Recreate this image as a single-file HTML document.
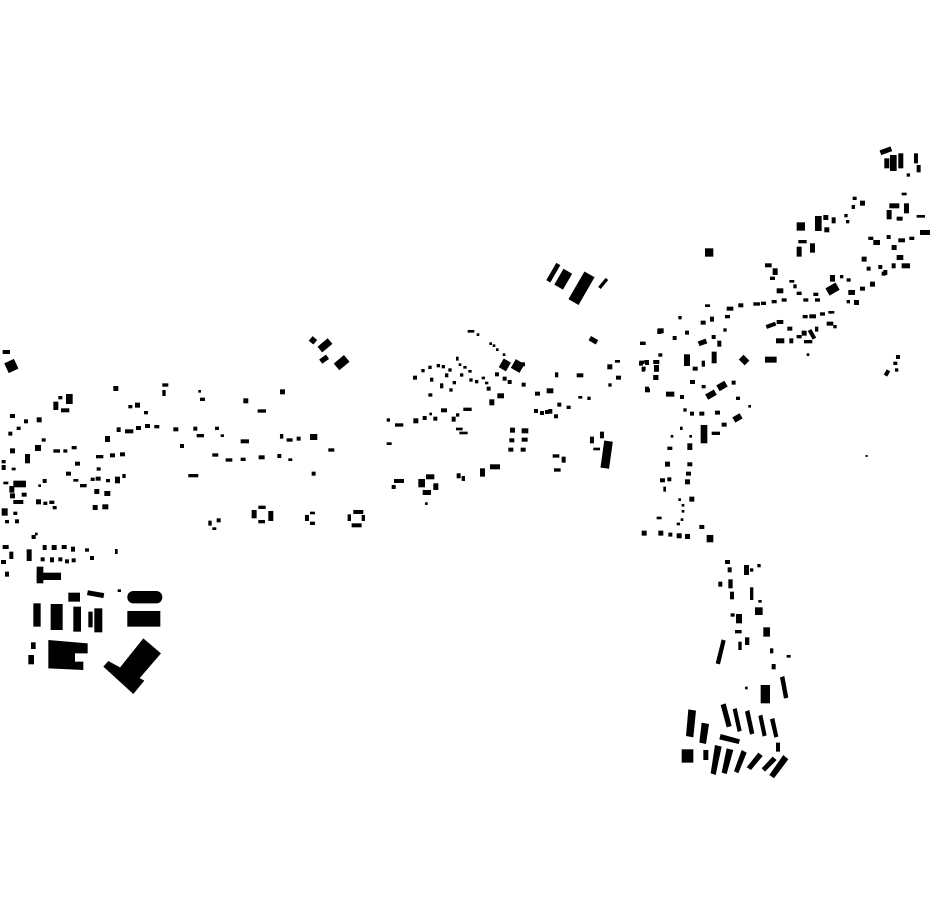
<!DOCTYPE html>
<html><head><meta charset="utf-8"><style>html,body{margin:0;padding:0;background:#fff}svg{display:block}</style></head>
<body>
<svg width="930" height="924" viewBox="0 0 930 924" xmlns="http://www.w3.org/2000/svg">
<rect width="930" height="924" fill="#fff"/>
<!-- Zoom1 region: bottom-left -->
<g transform="translate(0,530) scale(0.3333)" fill="#000">
<rect x="95" y="15" width="12" height="12"/><rect x="105" y="8" width="8" height="8"/><rect x="8" y="45" width="18" height="12"/><rect x="28" y="65" width="12" height="22"/><rect x="3" y="90" width="15" height="12"/><rect x="15" y="125" width="12" height="15"/><rect x="80" y="58" width="15" height="35"/><rect x="128" y="45" width="12" height="15"/><rect x="155" y="45" width="15" height="15"/><rect x="185" y="45" width="15" height="12"/><rect x="213" y="50" width="12" height="15"/><rect x="122" y="82" width="12" height="12"/><rect x="150" y="82" width="12" height="15"/><rect x="175" y="82" width="12" height="12"/><rect x="195" y="88" width="12" height="12"/><rect x="215" y="85" width="12" height="12"/><rect x="255" y="55" width="12" height="10"/><rect x="270" y="78" width="12" height="12"/><rect x="345" y="57" width="8" height="15"/><rect x="353" y="178" width="10" height="8"/>
<rect x="110" y="110" width="20" height="50"/><rect x="110" y="128" width="73" height="22"/><rect x="205" y="188" width="35" height="27"/><rect x="262" y="185" width="50" height="15" transform="rotate(10 287 192)"/>
<rect x="382" y="183" width="105" height="37" rx="18"/><rect x="382" y="243" width="99" height="47"/>
<rect x="100" y="220" width="22" height="70"/><rect x="152" y="222" width="36" height="78"/><rect x="220" y="230" width="23" height="75"/><rect x="265" y="245" width="13" height="47"/><rect x="283" y="235" width="24" height="72"/>
<polygon points="145,330 263,340 263,370 225,370 225,395 250,395 250,420 145,415"/>
<rect x="93" y="337" width="14" height="20"/><rect x="85" y="375" width="17" height="28"/>
<polygon points="430,325 483,370 410,455 358,415"/>
<polygon points="325,393 433,452 400,492 310,410"/>
</g>
<!-- Zoom2 region: bottom-right -->
<g transform="translate(670,550) scale(0.3333)" fill="#000">
<polygon points="155,268 167,272 150,343 137,340"/><rect x="272" y="405" width="28" height="55"/>
<polygon points="330,382 343,378 355,443 342,446"/>
<polygon points="55,478 78,482 70,562 48,558"/><polygon points="95,518 117,522 108,582 88,578"/>
<polygon points="152,465 167,460 185,528 170,532"/><polygon points="188,478 200,474 215,542 203,546"/>
<polygon points="225,485 238,480 253,550 240,554"/><polygon points="265,498 277,494 290,556 278,560"/>
<polygon points="300,508 313,504 325,560 313,563"/><rect x="318" y="578" width="12" height="27"/>
<polygon points="152,552 210,568 206,582 148,568"/><rect x="35" y="598" width="35" height="40"/><rect x="100" y="600" width="15" height="30"/>
<polygon points="135,585 155,590 137,675 122,670"/><polygon points="170,595 190,600 170,672 155,668"/>
<polygon points="215,600 230,608 205,670 192,664"/><polygon points="265,608 278,618 243,660 230,652"/>
<polygon points="308,620 320,630 285,665 275,655"/><polygon points="340,615 355,628 312,685 298,675"/>
<rect x="165" y="30" width="15" height="12"/><rect x="173" y="52" width="12" height="15"/><rect x="222" y="45" width="15" height="30"/><rect x="240" y="55" width="10" height="10"/><rect x="262" y="42" width="10" height="10"/><rect x="145" y="95" width="12" height="15"/><rect x="175" y="88" width="13" height="27"/><rect x="180" y="125" width="12" height="23"/><rect x="240" y="112" width="10" height="38"/><rect x="265" y="150" width="10" height="8"/><rect x="255" y="172" width="23" height="23"/><rect x="182" y="190" width="12" height="10"/><rect x="198" y="192" width="18" height="28"/><rect x="195" y="240" width="20" height="10"/><rect x="205" y="275" width="10" height="25"/><rect x="225" y="262" width="13" height="23"/><rect x="280" y="232" width="20" height="28"/><rect x="300" y="295" width="10" height="15"/><rect x="305" y="342" width="12" height="16"/><rect x="350" y="315" width="12" height="8"/><rect x="225" y="410" width="8" height="8"/>
</g>
<!-- Zoom3 region: left band -->
<g transform="translate(0,330) scale(0.3333)" fill="#000">
<rect x="8" y="60" width="22" height="12"/><rect x="18" y="92" width="32" height="32" transform="rotate(-25 34 108)"/>
<rect x="930" y="22" width="18" height="18" transform="rotate(40 939 31)"/><rect x="955" y="35" width="40" height="22" transform="rotate(-40 975 46)"/><rect x="960" y="80" width="25" height="16" transform="rotate(-35 972 88)"/><rect x="1005" y="85" width="40" height="26" transform="rotate(-40 1025 98)"/>
<rect x="340" y="168" width="15" height="15"/><rect x="487" y="160" width="18" height="10"/><rect x="487" y="180" width="10" height="18"/><rect x="595" y="180" width="8" height="8"/><rect x="600" y="203" width="15" height="10"/><rect x="730" y="205" width="15" height="15"/><rect x="773" y="238" width="25" height="10"/><rect x="840" y="178" width="15" height="15"/>
<rect x="160" y="215" width="15" height="25"/><rect x="175" y="198" width="12" height="10"/><rect x="198" y="192" width="20" height="30"/><rect x="183" y="235" width="25" height="12"/>
<rect x="385" y="225" width="12" height="10"/><rect x="405" y="218" width="15" height="15"/><rect x="432" y="243" width="12" height="10"/>
<rect x="30" y="252" width="15" height="12"/><rect x="50" y="290" width="12" height="10"/><rect x="72" y="268" width="12" height="12"/><rect x="110" y="262" width="15" height="15"/><rect x="25" y="305" width="12" height="12"/><rect x="125" y="325" width="12" height="10"/><rect x="105" y="345" width="18" height="18"/><rect x="30" y="355" width="15" height="15"/><rect x="75" y="372" width="15" height="28"/><rect x="5" y="390" width="12" height="10"/><rect x="5" y="405" width="12" height="15"/><rect x="35" y="413" width="12" height="8"/>
<rect x="160" y="358" width="20" height="10"/><rect x="190" y="358" width="12" height="10"/><rect x="215" y="348" width="15" height="10"/><rect x="350" y="292" width="12" height="14"/><rect x="375" y="298" width="25" height="12"/><rect x="408" y="288" width="15" height="12"/><rect x="435" y="282" width="15" height="12"/><rect x="463" y="285" width="15" height="10"/><rect x="520" y="292" width="15" height="12"/><rect x="315" y="318" width="15" height="18"/><rect x="580" y="290" width="12" height="12"/><rect x="590" y="312" width="22" height="10"/><rect x="645" y="290" width="12" height="10"/><rect x="662" y="313" width="10" height="8"/><rect x="722" y="328" width="25" height="12"/><rect x="840" y="312" width="10" height="14"/><rect x="860" y="325" width="18" height="10"/><rect x="890" y="320" width="12" height="12"/><rect x="930" y="312" width="22" height="18"/><rect x="985" y="355" width="18" height="10"/>
<rect x="540" y="342" width="12" height="12"/><rect x="288" y="375" width="22" height="10"/><rect x="330" y="370" width="15" height="12"/><rect x="360" y="367" width="15" height="12"/><rect x="637" y="370" width="18" height="10"/><rect x="677" y="385" width="20" height="10"/><rect x="722" y="383" width="15" height="10"/><rect x="776" y="376" width="18" height="12"/><rect x="832" y="372" width="12" height="12"/><rect x="865" y="385" width="12" height="8"/><rect x="935" y="425" width="12" height="12"/>
<rect x="225" y="395" width="15" height="12"/><rect x="198" y="425" width="15" height="12"/><rect x="290" y="412" width="12" height="10"/><rect x="220" y="447" width="15" height="8"/><rect x="240" y="462" width="20" height="10"/><rect x="272" y="443" width="12" height="10"/><rect x="287" y="440" width="15" height="12"/><rect x="318" y="447" width="12" height="10"/><rect x="345" y="440" width="15" height="20"/><rect x="367" y="432" width="10" height="12"/><rect x="565" y="432" width="30" height="10"/>
<rect x="10" y="455" width="15" height="8"/><rect x="40" y="452" width="38" height="20"/><rect x="28" y="468" width="15" height="20"/><rect x="65" y="488" width="15" height="12"/><rect x="30" y="490" width="15" height="15"/><rect x="40" y="510" width="30" height="12"/><rect x="128" y="447" width="12" height="12"/><rect x="115" y="463" width="8" height="8"/><rect x="108" y="508" width="15" height="15"/><rect x="130" y="515" width="12" height="10"/><rect x="148" y="512" width="15" height="10"/><rect x="158" y="528" width="12" height="10"/><rect x="283" y="477" width="15" height="15"/><rect x="313" y="483" width="18" height="15"/><rect x="278" y="525" width="15" height="15"/><rect x="307" y="523" width="18" height="15"/>
<rect x="5" y="535" width="18" height="22"/><rect x="40" y="545" width="12" height="10"/><rect x="15" y="570" width="12" height="10"/><rect x="45" y="568" width="12" height="12"/><rect x="95" y="615" width="10" height="10"/>
<rect x="625" y="572" width="10" height="15"/><rect x="650" y="565" width="12" height="12"/><rect x="637" y="592" width="12" height="8"/><rect x="755" y="540" width="15" height="25"/><rect x="775" y="527" width="22" height="10"/><rect x="805" y="543" width="15" height="30"/><rect x="775" y="570" width="20" height="10"/><rect x="915" y="555" width="12" height="18"/><rect x="930" y="545" width="15" height="8"/><rect x="930" y="575" width="15" height="10"/><rect x="1043" y="553" width="10" height="20"/><rect x="1060" y="540" width="30" height="12"/><rect x="1055" y="580" width="30" height="12"/><rect x="1085" y="555" width="10" height="18"/>
</g>
<!-- Zoom4 region: middle -->
<g transform="translate(380,255) scale(0.3333)" fill="#000">
<rect x="513" y="23" width="14" height="60" transform="rotate(30 520 53)"/><rect x="535" y="45" width="30" height="55" transform="rotate(30 550 72)"/><rect x="587" y="52" width="35" height="96" transform="rotate(30 605 100)"/><rect x="665" y="68" width="10" height="35" transform="rotate(40 670 85)"/>
<rect x="263" y="225" width="20" height="8"/><rect x="290" y="235" width="8" height="8"/><rect x="328" y="262" width="8" height="8"/><rect x="338" y="268" width="8" height="8"/><rect x="348" y="280" width="8" height="8"/><rect x="368" y="295" width="8" height="8"/>
<rect x="628" y="248" width="25" height="15" transform="rotate(30 640 255)"/><rect x="780" y="260" width="12" height="10"/><rect x="832" y="222" width="12" height="15"/>
<rect x="362" y="315" width="25" height="30" transform="rotate(30 375 330)"/><rect x="398" y="318" width="30" height="30" transform="rotate(30 413 333)"/><rect x="420" y="322" width="15" height="12"/>
<rect x="99" y="362" width="12" height="12"/><rect x="124" y="342" width="10" height="10"/><rect x="145" y="332" width="10" height="10"/><rect x="170" y="327" width="10" height="10"/><rect x="185" y="330" width="10" height="10"/><rect x="228" y="305" width="8" height="12"/><rect x="236" y="325" width="8" height="8"/><rect x="250" y="333" width="10" height="8"/><rect x="265" y="345" width="10" height="8"/><rect x="150" y="368" width="10" height="12"/><rect x="180" y="385" width="10" height="15"/><rect x="195" y="355" width="10" height="12"/><rect x="205" y="340" width="10" height="10"/><rect x="208" y="400" width="10" height="10"/><rect x="218" y="378" width="10" height="10"/><rect x="240" y="355" width="10" height="10"/><rect x="268" y="370" width="10" height="10"/><rect x="285" y="375" width="10" height="10"/><rect x="305" y="365" width="10" height="8"/><rect x="315" y="380" width="10" height="8"/><rect x="320" y="395" width="12" height="12"/><rect x="345" y="352" width="12" height="12"/><rect x="368" y="365" width="12" height="12"/><rect x="383" y="375" width="12" height="12"/><rect x="425" y="383" width="12" height="12"/><rect x="145" y="415" width="12" height="10"/>
<rect x="525" y="352" width="10" height="15"/><rect x="590" y="355" width="20" height="12"/><rect x="682" y="328" width="15" height="15"/><rect x="705" y="315" width="15" height="8"/><rect x="708" y="362" width="15" height="12"/><rect x="685" y="385" width="10" height="10"/><rect x="777" y="320" width="12" height="12"/><rect x="795" y="315" width="12" height="15"/><rect x="820" y="315" width="18" height="12"/><rect x="785" y="335" width="12" height="12"/><rect x="822" y="330" width="15" height="20"/><rect x="820" y="360" width="15" height="15"/><rect x="795" y="395" width="12" height="15"/>
<rect x="465" y="410" width="15" height="12"/><rect x="500" y="400" width="20" height="15"/><rect x="352" y="415" width="20" height="15"/><rect x="328" y="433" width="15" height="18"/><rect x="595" y="423" width="12" height="8"/><rect x="622" y="425" width="10" height="10"/>
<rect x="20" y="490" width="10" height="10"/><rect x="45" y="505" width="25" height="10"/><rect x="100" y="490" width="15" height="15"/><rect x="128" y="483" width="12" height="12"/><rect x="148" y="473" width="8" height="8"/><rect x="160" y="485" width="12" height="12"/><rect x="183" y="460" width="18" height="12"/><rect x="215" y="485" width="12" height="15"/><rect x="228" y="475" width="10" height="10"/><rect x="250" y="458" width="25" height="10"/><rect x="462" y="462" width="12" height="12"/><rect x="480" y="468" width="12" height="12"/><rect x="495" y="465" width="12" height="12"/><rect x="505" y="462" width="12" height="14"/><rect x="522" y="478" width="12" height="12"/><rect x="532" y="443" width="12" height="12"/><rect x="560" y="452" width="12" height="10"/>
<rect x="228" y="518" width="20" height="8"/><rect x="238" y="530" width="25" height="8"/><rect x="20" y="562" width="15" height="8"/>
<rect x="390" y="518" width="15" height="15"/><rect x="425" y="520" width="20" height="15"/><rect x="388" y="550" width="15" height="12"/><rect x="425" y="548" width="18" height="12"/><rect x="385" y="578" width="15" height="12"/><rect x="422" y="578" width="15" height="12"/>
<rect x="630" y="545" width="12" height="20"/><rect x="660" y="530" width="12" height="20"/><rect x="640" y="578" width="20" height="8"/><rect x="667" y="558" width="26" height="82" transform="rotate(8 680 599)"/>
<rect x="518" y="598" width="20" height="10"/><rect x="545" y="605" width="12" height="18"/><rect x="522" y="640" width="20" height="10"/>
<rect x="330" y="628" width="30" height="15"/><rect x="300" y="640" width="15" height="25"/>
<rect x="230" y="655" width="12" height="15"/><rect x="245" y="663" width="10" height="15"/><rect x="35" y="690" width="12" height="12"/><rect x="42" y="672" width="30" height="12"/><rect x="115" y="672" width="20" height="25"/><rect x="138" y="658" width="25" height="15"/><rect x="160" y="685" width="15" height="20"/><rect x="128" y="705" width="25" height="15"/><rect x="135" y="742" width="8" height="8"/>
</g>
<!-- Zoom5 region: upper right -->
<g transform="translate(630,140) scale(0.3333)" fill="#000">
<rect x="750" y="25" width="35" height="15" transform="rotate(-20 767 32)"/><rect x="763" y="55" width="15" height="30"/><rect x="780" y="45" width="20" height="48"/><rect x="805" y="40" width="15" height="45"/><rect x="852" y="40" width="12" height="30"/><rect x="860" y="75" width="12" height="22"/><rect x="830" y="100" width="10" height="10"/>
<rect x="815" y="158" width="15" height="8"/><rect x="822" y="190" width="15" height="30"/><rect x="778" y="190" width="30" height="15"/><rect x="770" y="210" width="15" height="28"/><rect x="800" y="230" width="18" height="12"/><rect x="860" y="225" width="25" height="8"/>
<rect x="668" y="170" width="12" height="10"/><rect x="690" y="182" width="15" height="15"/><rect x="665" y="195" width="10" height="12"/><rect x="643" y="222" width="10" height="10"/><rect x="648" y="240" width="10" height="10"/>
<rect x="500" y="247" width="25" height="25"/><rect x="555" y="228" width="20" height="45"/><rect x="580" y="225" width="15" height="15"/><rect x="605" y="232" width="12" height="18"/><rect x="583" y="262" width="15" height="15"/>
<rect x="505" y="300" width="25" height="10"/><rect x="500" y="320" width="15" height="30"/><rect x="540" y="310" width="15" height="28"/><rect x="225" y="325" width="25" height="25"/>
<rect x="405" y="370" width="20" height="12"/><rect x="428" y="385" width="15" height="20"/><rect x="420" y="410" width="15" height="10"/><rect x="440" y="445" width="20" height="15"/><rect x="478" y="420" width="15" height="8"/><rect x="490" y="433" width="10" height="12"/><rect x="500" y="455" width="15" height="10"/><rect x="520" y="475" width="15" height="10"/><rect x="550" y="458" width="15" height="10"/><rect x="555" y="475" width="15" height="10"/><rect x="600" y="405" width="15" height="20"/><rect x="590" y="435" width="35" height="25" transform="rotate(-30 607 447)"/><rect x="630" y="405" width="10" height="10"/><rect x="650" y="415" width="12" height="10"/>
<rect x="715" y="290" width="15" height="10"/><rect x="730" y="300" width="20" height="15"/><rect x="770" y="285" width="12" height="12"/><rect x="785" y="315" width="15" height="15"/><rect x="805" y="295" width="20" height="12"/><rect x="838" y="290" width="15" height="10"/><rect x="870" y="270" width="30" height="15"/><rect x="695" y="350" width="15" height="15"/><rect x="710" y="380" width="12" height="12"/><rect x="720" y="425" width="15" height="15"/><rect x="690" y="440" width="15" height="12"/><rect x="655" y="450" width="20" height="15"/><rect x="672" y="480" width="15" height="15"/><rect x="650" y="480" width="10" height="10"/><rect x="745" y="375" width="12" height="12"/><rect x="760" y="390" width="12" height="15"/><rect x="785" y="370" width="12" height="15"/><rect x="800" y="345" width="20" height="15"/><rect x="815" y="370" width="25" height="15"/><rect x="755" y="395" width="12" height="12"/>
<rect x="225" y="493" width="15" height="8"/><rect x="290" y="500" width="20" height="12"/><rect x="325" y="490" width="15" height="12"/><rect x="370" y="487" width="20" height="10"/><rect x="393" y="485" width="15" height="10"/><rect x="425" y="480" width="15" height="10"/><rect x="455" y="475" width="15" height="10"/>
<rect x="145" y="528" width="10" height="10"/><rect x="212" y="542" width="15" height="12"/><rect x="240" y="530" width="12" height="15"/><rect x="285" y="525" width="15" height="10"/><rect x="35" y="605" width="12" height="10"/><rect x="83" y="565" width="18" height="15"/><rect x="128" y="588" width="12" height="12"/><rect x="165" y="572" width="12" height="12"/><rect x="205" y="600" width="25" height="15" transform="rotate(-20 217 607)"/><rect x="245" y="585" width="12" height="12"/><rect x="262" y="602" width="12" height="18"/><rect x="280" y="565" width="10" height="10"/><rect x="408" y="550" width="30" height="12" transform="rotate(-20 423 556)"/><rect x="440" y="540" width="20" height="12"/><rect x="472" y="560" width="15" height="12"/><rect x="518" y="525" width="15" height="10"/><rect x="538" y="523" width="20" height="12"/><rect x="570" y="517" width="15" height="10"/><rect x="595" y="513" width="18" height="8"/><rect x="438" y="595" width="25" height="15"/><rect x="478" y="595" width="12" height="15"/><rect x="500" y="585" width="15" height="10"/><rect x="515" y="572" width="15" height="15"/><rect x="522" y="600" width="25" height="10"/><rect x="540" y="568" width="12" height="30" transform="rotate(-30 546 583)"/><rect x="555" y="560" width="10" height="15"/><rect x="590" y="545" width="20" height="12"/><rect x="610" y="555" width="10" height="10"/><rect x="530" y="640" width="8" height="8"/>
<rect x="28" y="662" width="15" height="10"/><rect x="43" y="660" width="10" height="10"/><rect x="35" y="683" width="10" height="12"/><rect x="70" y="660" width="15" height="10"/><rect x="85" y="640" width="12" height="10"/><rect x="72" y="675" width="15" height="20"/><rect x="70" y="705" width="15" height="15"/><rect x="45" y="745" width="15" height="12"/><rect x="162" y="643" width="18" height="35"/><rect x="188" y="680" width="15" height="12"/><rect x="215" y="662" width="10" height="18"/><rect x="245" y="635" width="15" height="35"/><rect x="330" y="650" width="25" height="20" transform="rotate(45 342 660)"/><rect x="405" y="650" width="35" height="18"/>
<rect x="108" y="755" width="25" height="15"/><rect x="150" y="765" width="12" height="12"/><rect x="180" y="720" width="15" height="12"/><rect x="215" y="735" width="12" height="10"/><rect x="228" y="755" width="30" height="18" transform="rotate(-30 243 764)"/><rect x="262" y="728" width="28" height="20" transform="rotate(-30 276 738)"/><rect x="305" y="722" width="12" height="12"/><rect x="318" y="770" width="12" height="10"/><rect x="355" y="795" width="8" height="8"/><rect x="160" y="805" width="10" height="10"/><rect x="180" y="815" width="12" height="12"/><rect x="208" y="815" width="15" height="12"/><rect x="255" y="812" width="15" height="12"/><rect x="310" y="825" width="25" height="18" transform="rotate(-30 322 834)"/><rect x="275" y="848" width="15" height="12"/><rect x="212" y="855" width="20" height="55"/><rect x="245" y="875" width="25" height="10"/><rect x="150" y="860" width="8" height="10"/><rect x="122" y="885" width="8" height="8"/><rect x="178" y="885" width="8" height="8"/><rect x="112" y="920" width="15" height="10"/><rect x="172" y="910" width="15" height="20"/><rect x="105" y="965" width="15" height="15"/><rect x="172" y="967" width="15" height="12"/><rect x="168" y="995" width="15" height="12"/><rect x="90" y="1015" width="15" height="12"/><rect x="112" y="1012" width="12" height="12"/><rect x="165" y="1018" width="15" height="15"/><rect x="100" y="1040" width="8" height="15"/><rect x="145" y="1075" width="8" height="8"/><rect x="178" y="1070" width="15" height="15"/><rect x="155" y="1092" width="8" height="8"/><rect x="155" y="1110" width="8" height="8"/><rect x="152" y="1135" width="8" height="8"/><rect x="80" y="1130" width="15" height="8"/><rect x="140" y="1148" width="10" height="8"/><rect x="35" y="1172" width="15" height="15"/><rect x="85" y="1172" width="15" height="15"/><rect x="115" y="1178" width="12" height="12"/><rect x="140" y="1180" width="15" height="15"/><rect x="165" y="1182" width="15" height="15"/><rect x="208" y="1155" width="15" height="12"/><rect x="230" y="1185" width="20" height="22"/>
<rect x="765" y="690" width="12" height="18" transform="rotate(30 771 699)"/><rect x="790" y="665" width="12" height="10"/><rect x="798" y="645" width="12" height="12"/><rect x="795" y="685" width="10" height="10"/><rect x="707" y="945" width="6" height="6"/>
</g>
</svg>
</body></html>
